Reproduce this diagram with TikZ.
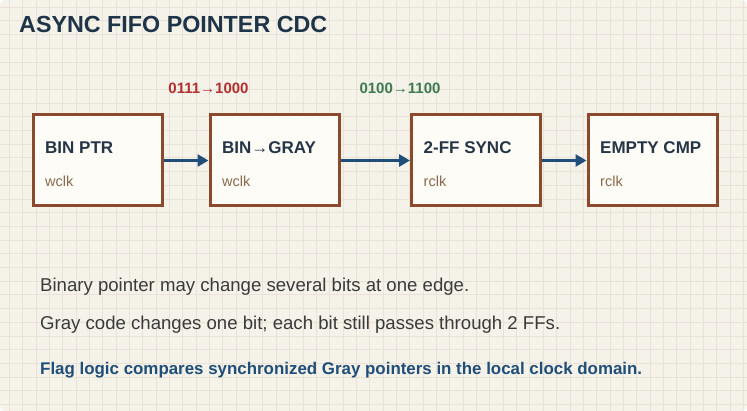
\documentclass[tikz,border=0pt]{standalone}
\usepackage{fontspec}
\setmainfont{Liberation Sans}
\usetikzlibrary{arrows.meta}
\definecolor{bgc}{HTML}{F5F2EA}
\definecolor{gridc}{HTML}{E8E3D6}
\definecolor{titlec}{HTML}{1E3448}
\definecolor{boxc}{HTML}{8B4A2B}
\definecolor{boxfill}{HTML}{FDFCF7}
\definecolor{boxtxt}{HTML}{263545}
\definecolor{subc}{HTML}{8A6A4E}
\definecolor{arrc}{HTML}{1F4E79}
\definecolor{redc}{HTML}{B22F2F}
\definecolor{greenc}{HTML}{3D7A4F}
\definecolor{bodyc}{HTML}{3A3A3A}
\tikzset{
  stagebox/.style={draw=boxc, fill=boxfill, line width=3pt, minimum width=129pt, minimum height=91pt, inner sep=0pt},
  stagetitle/.style={anchor=base west, inner sep=0pt, text=boxtxt, font=\fontsize{17}{20}\selectfont\bfseries},
  stagesub/.style={anchor=base west, inner sep=0pt, text=subc, font=\fontsize{14.5}{17}\selectfont},
  flow/.style={draw=arrc, line width=3pt, -{Triangle[length=11pt,width=12pt]}},
  codelbl/.style={anchor=base, inner sep=0pt, font=\fontsize{15}{18}\selectfont\bfseries},
  bodytxt/.style={anchor=base west, inner sep=0pt, text=bodyc, font=\fontsize{18.6}{22}\selectfont},
}
\begin{document}
\begin{tikzpicture}[x=1pt,y=-1pt]
\useasboundingbox (0,0) rectangle (747,411);
\begin{scope}
\clip[rounded corners=6pt] (0,0) rectangle (747,411);
\fill[bgc] (0,0) rectangle (747,411);
\foreach \i in {0,...,55} \draw[gridc, line width=1pt] ({9.3+13.35*\i},0) -- ++(0,411);
\foreach \j in {0,...,29} \draw[gridc, line width=1pt] (0,{7.3+13.7*\j}) -- ++(747,0);
\end{scope}

\node[anchor=base west, inner sep=0pt, text=titlec, font=\fontsize{23.3}{27}\selectfont\bfseries] (title) at (19,33) {ASYNC FIFO POINTER CDC};

\node[stagebox] (b1) at (97.5,160.5) {};
\node[stagebox] (b2) at (274.5,160.5) {};
\node[stagebox] (b3) at (476,160.5) {};
\node[stagebox] (b4) at (652.5,160.5) {};

\node[stagetitle] (t1) at (45,154) {BIN PTR};
\node[stagesub] (s1) at (45,187) {wclk};
\node[stagetitle] (t2) at (222,154) {BIN→GRAY};
\node[stagesub] (s2) at (222,187) {wclk};
\node[stagetitle] (t3) at (423.5,154) {2-FF SYNC};
\node[stagesub] (s3) at (423.5,187) {rclk};
\node[stagetitle] (t4) at (600,154) {EMPTY CMP};
\node[stagesub] (s4) at (600,187) {rclk};

\draw[flow] (b1.east) -- (b2.west);
\draw[flow] (b2.east) -- (b3.west);
\draw[flow] (b3.east) -- (b4.west);

\node[codelbl, text=redc] (l1) at (208.5,94) {0111→1000};
\node[codelbl, text=greenc] (l2) at (400,94) {0100→1100};

\node[bodytxt] (p1) at (40,292) {Binary pointer may change several bits at one edge.};
\node[bodytxt] (p2) at (40,330) {Gray code changes one bit; each bit still passes through 2 FFs.};
\node[anchor=base west, inner sep=0pt, text=arrc, font=\fontsize{16.9}{20}\selectfont\bfseries] (p3) at (40,375) {Flag logic compares synchronized Gray pointers in the local clock domain.};
\end{tikzpicture}
\end{document}
